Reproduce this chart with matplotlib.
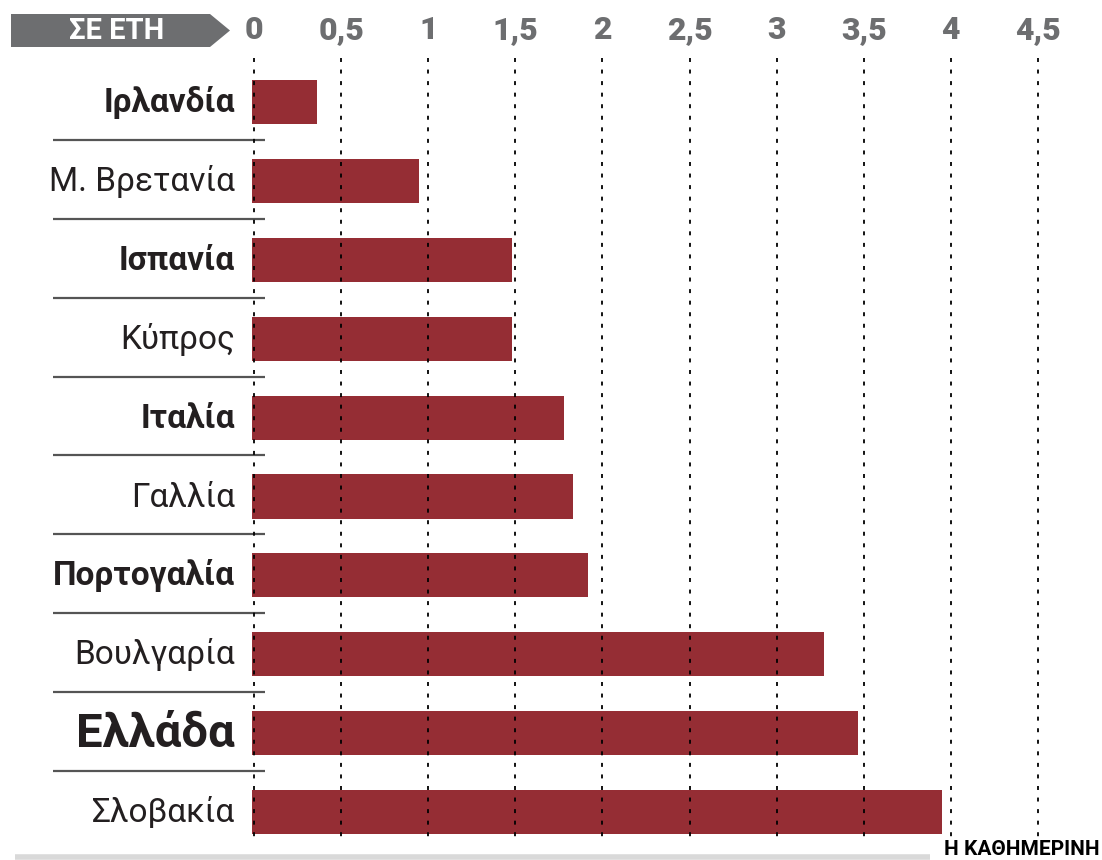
import matplotlib.pyplot as plt
from matplotlib.patches import Polygon

plt.rcParams['font.family'] = ['Roboto', 'DejaVu Sans']

# data
countries = ["Ιρλανδία", "Μ. Βρετανία", "Ισπανία", "Κύπρος", "Ιταλία",
             "Γαλλία", "Πορτογαλία", "Βουλγαρία", "Ελλάδα", "Σλοβακία"]
years = [0.37, 0.96, 1.49, 1.49, 1.79, 1.84, 1.93, 3.28, 3.48, 3.96]
bold = [True, False, True, False, True, False, True, False, True, False]
ticks = [0, 0.5, 1, 1.5, 2, 2.5, 3, 3.5, 4, 4.5]
tick_labels = ["0", "0,5", "1", "1,5", "2", "2,5", "3", "3,5", "4", "4,5"]

bar_color = "#952d34"
gray = "#6d6e70"
text_color = "#231f20"

fig = plt.figure(figsize=(11.02, 8.6), dpi=100)
ax = fig.add_axes([0, 0, 1, 1])
# one unit = 174.2 px horizontally, one row = 78.9 px vertically
ax.set_xlim(-254 / 174.2, (1102 - 254) / 174.2)
ax.set_ylim((860 - 102) / 78.9, -102 / 78.9)
ax.axis("off")

rows = list(range(len(countries)))

# dotted gridlines
ax.vlines(ticks, -0.56, 9.35, colors="black", linestyles=(0, (2.2, 4.2)),
          linewidth=1.3, zorder=3)

ax.barh(rows, years, height=0.56, left=-0.01, color=bar_color, zorder=2)

for i, (name, b) in enumerate(zip(countries, bold)):
    if name == "Ελλάδα":
        ax.text(-0.11, i + 0.18, name, ha="right", va="baseline",
                fontsize=34, fontweight="bold", color=text_color)
    else:
        ax.text(-0.11, i + 0.127, name, ha="right", va="baseline",
                fontsize=24, fontweight="bold" if b else "normal",
                color=text_color)
    if i < len(countries) - 1:
        ax.plot([-1.154, 0.063], [i + 0.48, i + 0.48], color="#555555",
                linewidth=1.6, zorder=1, solid_capstyle="butt")

for t, lab in zip(ticks, tick_labels):
    ax.text(t, -0.913, lab, ha="center", va="center", fontsize=23,
            fontweight="heavy", color=gray)

# header banner
ax.add_patch(Polygon([(11 / 1102, 1 - 14 / 860), (210 / 1102, 1 - 14 / 860),
                      (230 / 1102, 1 - 30.5 / 860), (210 / 1102, 1 - 47 / 860),
                      (11 / 1102, 1 - 47 / 860)], closed=True,
                     transform=ax.transAxes, facecolor=gray, edgecolor="none"))
ax.text(117 / 1102, 1 - 31 / 860, "ΣΕ ΕΤΗ", transform=ax.transAxes,
        ha="center", va="center", fontsize=21, fontweight="bold", color="white")

# bottom rule and credit
ax.plot([15 / 1102, 930 / 1102], [1 - 857 / 860] * 2, transform=ax.transAxes,
        color="#d9d9d9", linewidth=4, solid_capstyle="butt")
ax.text(1100 / 1102, 1 / 860, "Η ΚΑΘΗΜΕΡΙΝΗ", transform=ax.transAxes,
        ha="right", va="bottom", fontsize=15, fontweight="bold", color="black",
        family=["Liberation Sans Narrow", "Roboto", "DejaVu Sans"])

fig.savefig("out.png", dpi=100)
